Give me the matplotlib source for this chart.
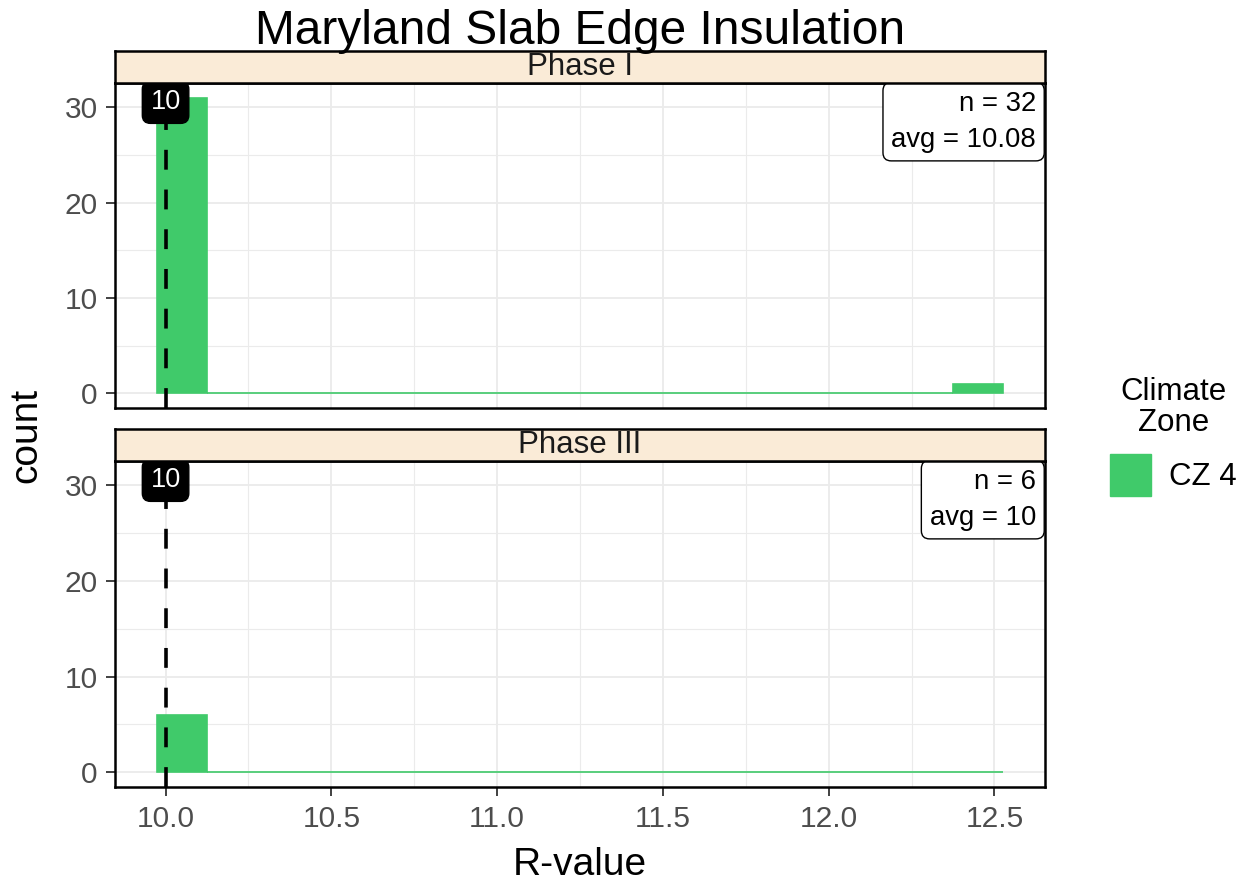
import matplotlib
matplotlib.use("Agg")
import matplotlib.pyplot as plt
from matplotlib.patches import Patch
from matplotlib.ticker import MultipleLocator

plt.rcParams['font.family'] = ['Liberation Sans', 'DejaVu Sans']

# ---------------- data ----------------
title = "Maryland Slab Edge Insulation"
phases = ["Phase I", "Phase III"]
bin_left = [9.975, 10.125, 10.275, 10.425, 10.575, 10.725, 10.875, 11.025, 11.175,
            11.325, 11.475, 11.625, 11.775, 11.925, 12.075, 12.225, 12.375]
bin_width = 0.15
counts_phase1 = [31, 0, 0, 0, 0, 0, 0, 0, 0, 0, 0, 0, 0, 0, 0, 0, 1]
counts_phase3 = [6, 0, 0, 0, 0, 0, 0, 0, 0, 0, 0, 0, 0, 0, 0, 0, 0]
counts = [counts_phase1, counts_phase3]
n_values = [32, 6]
avg_labels = ["10.08", "10"]
ref_value = 10
ref_labels = ["10", "10"]
x_ticks = [10.0, 10.5, 11.0, 11.5, 12.0, 12.5]
y_ticks = [0, 10, 20, 30]
legend_title = "Climate\nZone"
legend_label = "CZ 4"

# ---------------- style ----------------
W, H = 1249, 883
GREEN = "#40CA6A"
STRIP = "#FAEBD7"
GRID = "#EBEBEB"

fig = plt.figure(figsize=(W / 100, H / 100), dpi=100)
fig.patch.set_facecolor("white")

def frac_rect(left, top, right, bottom):
    return [left / W, 1 - bottom / H, (right - left) / W, (bottom - top) / H]

panels = [
    dict(ax=(115, 83, 1045, 408), strip=(115, 51, 1045, 83)),
    dict(ax=(115, 461, 1045, 787), strip=(115, 429, 1045, 461)),
]

axes = []
for i, p in enumerate(panels):
    ax = fig.add_axes(frac_rect(*p["ax"]))
    axes.append(ax)
    ax.set_facecolor("white")
    ax.bar(bin_left, counts[i], width=bin_width, align="edge", color=GREEN,
           edgecolor=GREEN, linewidth=1.2, zorder=2)
    ax.axvline(ref_value, color="black", linestyle=(0, (5.5, 5.5)), linewidth=2.6, zorder=3)
    ax.set_xlim(9.8475, 12.6525)
    ax.set_ylim(-1.55, 32.55)
    ax.set_xticks(x_ticks)
    ax.set_yticks(y_ticks)
    ax.xaxis.set_minor_locator(MultipleLocator(0.25))
    ax.yaxis.set_minor_locator(MultipleLocator(5))
    ax.grid(which="major", color=GRID, linewidth=1.3, zorder=0)
    ax.grid(which="minor", color=GRID, linewidth=0.8, zorder=0)
    ax.set_axisbelow(True)
    for s in ax.spines.values():
        s.set_color("black")
        s.set_linewidth(1.8)
    ax.tick_params(which="minor", length=0)
    ax.tick_params(axis="y", which="major", length=6.5, width=1.3, color="#333333",
                   labelsize=21.5, labelcolor="#4D4D4D", pad=6)
    ax.tick_params(axis="x", which="major", length=6.5, width=1.3, color="#333333",
                   labelsize=21.5, labelcolor="#4D4D4D", pad=6.5)
    if i == 0:
        ax.tick_params(axis="x", which="both", length=0, labelbottom=False)
    else:
        ax.set_xticklabels([f"{v:.1f}" for v in x_ticks])

    # stats label (top-right)
    ax.annotate(f"n = {n_values[i]}\navg = {avg_labels[i]}", xy=(1, 1),
                xycoords="axes fraction", xytext=(-6.5, -5.5), textcoords="offset points",
                ha="right", va="top", fontsize=19.8, color="black", linespacing=1.5,
                bbox=dict(boxstyle="round,pad=0.3,rounding_size=0.3", fc="white",
                          ec="black", lw=1.0), zorder=5)
    # reference value label
    ax.annotate(ref_labels[i], xy=(ref_value, 1), xycoords=("data", "axes fraction"),
                xytext=(0, -4.5), textcoords="offset points", ha="center", va="top",
                fontsize=19.5, color="white",
                bbox=dict(boxstyle="round,pad=0.3,rounding_size=0.3", fc="black",
                          ec="black", lw=1.0), zorder=6)

    # strip
    sax = fig.add_axes(frac_rect(*p["strip"]))
    sax.set_facecolor(STRIP)
    sax.set_xticks([])
    sax.set_yticks([])
    for s in sax.spines.values():
        s.set_color("black")
        s.set_linewidth(1.8)
    sax.text(0.5, 0.5, phases[i], ha="center", va="center", fontsize=22.5,
             color="#1A1A1A", transform=sax.transAxes)

# titles
fig.text(580 / W, 1 - 44 / H, title, ha="center", va="baseline", fontsize=34.5, color="black")
fig.text(580 / W, 1 - 875 / H, "R-value", ha="center", va="baseline", fontsize=28, color="black")
fig.text(26 / W, 1 - 435 / H, "count", ha="center", va="center", rotation=90,
         fontsize=28, color="black")

# legend
handle = Patch(facecolor=GREEN, edgecolor=GREEN)
leg = fig.legend([handle], [legend_label], title=legend_title, loc="upper left",
                 bbox_to_anchor=(1110 / W, 1 - 377 / H), frameon=False, fontsize=22.5,
                 title_fontsize=22.5, handlelength=1.3, handleheight=1.7,
                 handletextpad=0.6, alignment="center", borderpad=0, borderaxespad=0)
leg.get_title().set_multialignment("center")
leg.get_title().set_linespacing(1.05)

fig.savefig("out.png", dpi=100)
